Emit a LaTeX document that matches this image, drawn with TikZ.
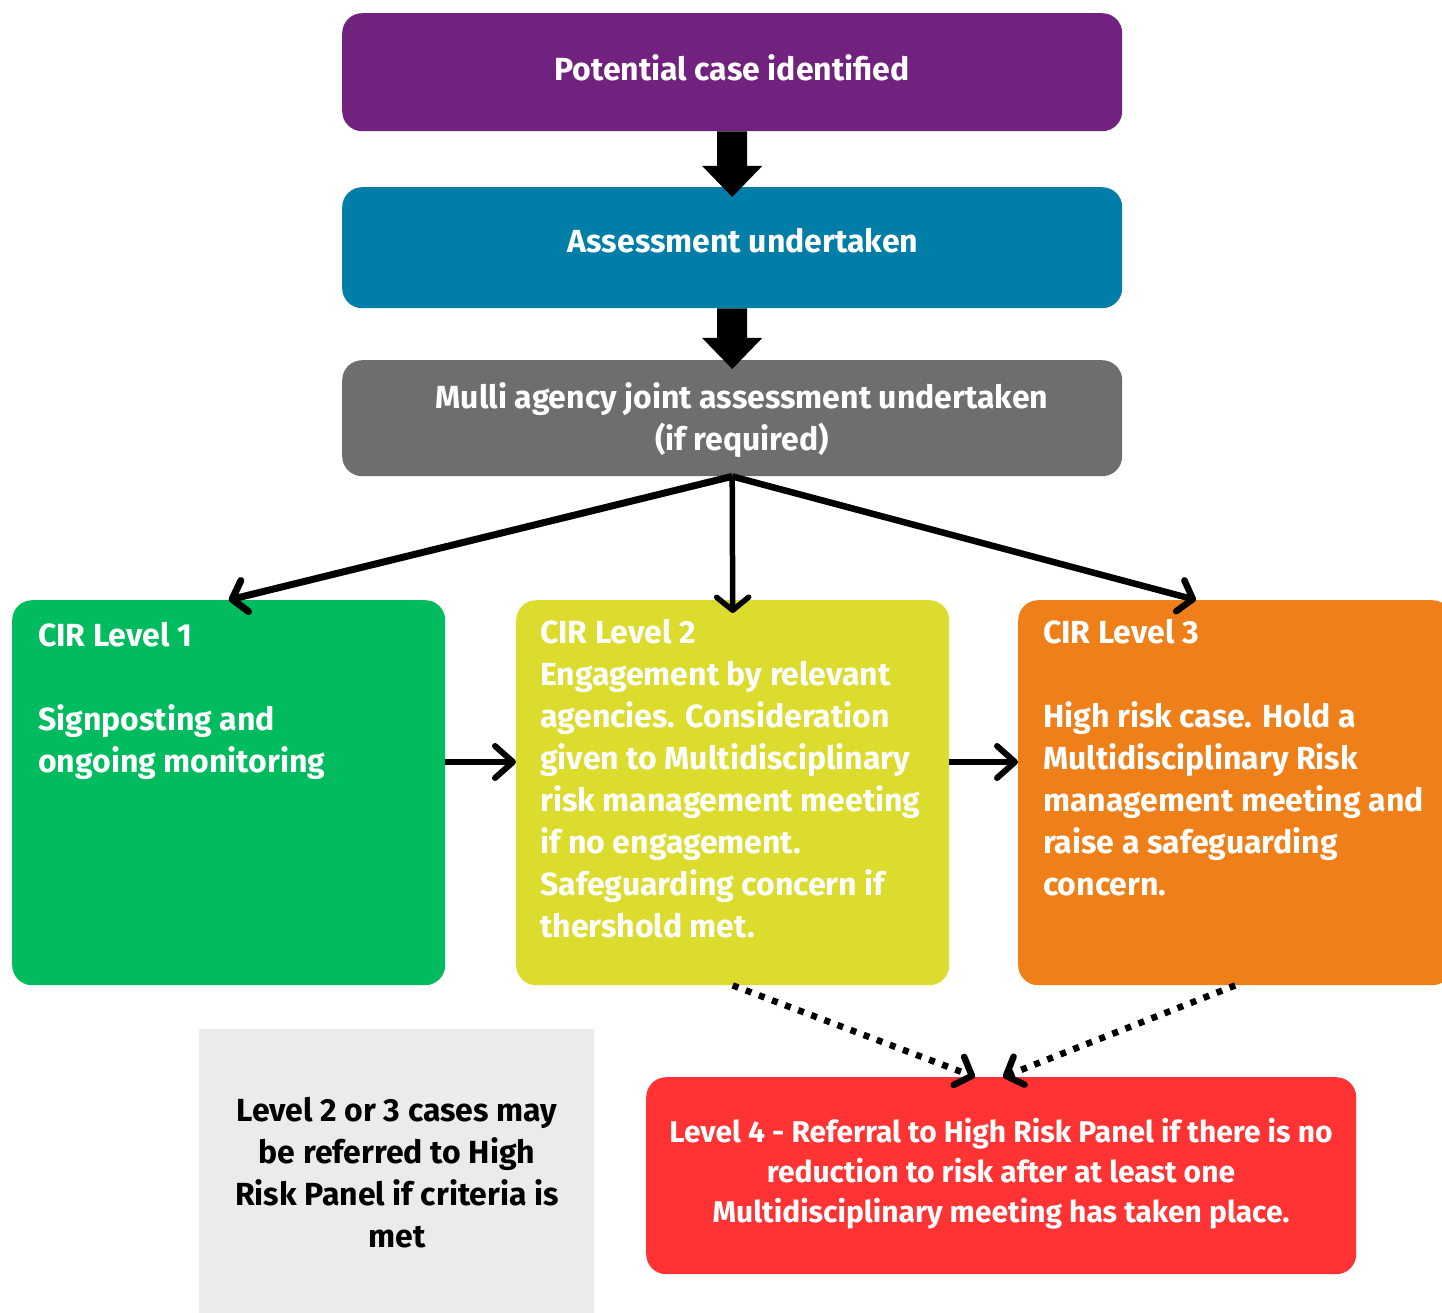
\documentclass[tikz,border=0pt]{standalone}
\usepackage{fontspec}
\setmainfont{Fira Sans}
\usetikzlibrary{arrows.meta,calc}
\definecolor{cpurple}{HTML}{71217E}
\definecolor{cteal}{HTML}{007EA7}
\definecolor{cgrey}{HTML}{706D6E}
\definecolor{cgreen}{HTML}{00BC5F}
\definecolor{cyellow}{HTML}{DCDC2F}
\definecolor{corange}{HTML}{EF8019}
\definecolor{cred}{HTML}{FF3333}
\definecolor{cnote}{HTML}{EBEBEB}
\begin{document}
\begin{tikzpicture}[x=1pt,y=-1pt,
  box/.style={rounded corners=20pt, inner sep=0pt, anchor=north west, draw=none},
  bigtxt/.style={inner sep=0pt, text=white, font=\fontsize{32}{42}\selectfont\bfseries},
  notetxt/.style={inner sep=0pt, text=black, align=center, anchor=north, font=\fontsize{32}{42}\selectfont\bfseries},
  redtxt/.style={inner sep=0pt, text=white, align=center, anchor=north, font=\fontsize{30}{40}\selectfont\bfseries},
  fanarrow/.style={line width=#1, -{Straight Barb[round, length=13pt, width=32pt]}},
  sidearrow/.style={line width=6pt, -{Straight Barb[round, length=18pt, width=32pt]}},
  dotarrow/.style={line width=6.5pt, dash pattern=on 6pt off 8pt, -{Straight Barb[round, length=14pt, width=30pt]}}]
\useasboundingbox[fill=white] (0,0) rectangle (1442,1313);

% boxes
\node[box, fill=cpurple, minimum width=780pt, minimum height=118pt] (purple) at (342,13) {};
\node[box, fill=cteal, minimum width=780pt, minimum height=121pt] (teal) at (342,187) {};
\node[box, fill=cgrey, minimum width=780pt, minimum height=116pt] (grey) at (342,360) {};
\node[box, fill=cgreen, minimum width=433pt, minimum height=385pt] (green) at (12,600) {};
\node[box, fill=cyellow, minimum width=433pt, minimum height=385pt] (yellow) at (516,600) {};
\node[box, fill=corange, minimum width=434pt, minimum height=385pt] (orange) at (1018,600) {};
\node[box, rounded corners=0pt, fill=cnote, minimum width=395pt, minimum height=290pt] (note) at (199,1029) {};
\node[box, fill=cred, minimum width=710pt, minimum height=197pt] (red) at (646,1077) {};

% texts
\node[bigtxt, anchor=base] (purpletxt) at (732,81) {Potential case identified};
\node[bigtxt, anchor=base] (tealtxt) at (743,253) {Assessment undertaken};
\node[bigtxt, align=center, anchor=north] (greytxt) at (742,378.6)
  {\strut Mulli agency joint assessment undertaken\\(if required)};
\node[bigtxt, align=left, anchor=north west] (greentxt) at (38,616.6)
  {\strut CIR Level 1\\[42pt]Signposting and\\ongoing monitoring};
\node[bigtxt, align=left, anchor=north west] (yellowtxt) at (540,613.6)
  {\strut CIR Level 2\\Engagement by relevant\\agencies. Consideration\\given to Multidisciplinary\\risk management meeting\\if no engagement.\\Safeguarding concern if\\thershold met.};
\node[bigtxt, align=left, anchor=north west] (orangetxt) at (1043,613.6)
  {\strut CIR Level 3\\[42pt]High risk case. Hold a\\Multidisciplinary Risk\\management meeting and\\raise a safeguarding\\concern.};
\node[notetxt] (notetxt) at (397,1091.6)
  {\strut Level 2 or 3 cases may\\be referred to High\\Risk Panel if criteria is\\met};
\node[redtxt] (redtxt) at (1001,1114)
  {\strut Level 4 - Referral to High Risk Panel if there is no\\reduction to risk after at least one\\Multidisciplinary meeting has taken place.};

% block arrows between the top boxes
\fill[black] ($(purple.south)+(-15,0)$) -- ($(purple.south)+(15,0)$) -- ($(teal.north)+(15,-21)$)
  -- ($(teal.north)+(30,-21)$) -- ($(teal.north)+(0,10)$) -- ($(teal.north)+(-30,-21)$)
  -- ($(teal.north)+(-15,-21)$) -- cycle;
\fill[black] ($(teal.south)+(-15,0)$) -- ($(teal.south)+(15,0)$) -- ($(grey.north)+(15,-22)$)
  -- ($(grey.north)+(30,-22)$) -- ($(grey.north)+(0,9)$) -- ($(grey.north)+(-30,-22)$)
  -- ($(grey.north)+(-15,-22)$) -- cycle;

% fan out to the three levels
\coordinate (t3) at (1196,600);
\draw[fanarrow=7pt] (grey.south) -- (green.north);
\draw[fanarrow=5.5pt] (grey.south) -- ($(yellow.north)+(0,13)$);
\draw[fanarrow=6.5pt] (grey.south) -- (t3);

% escalation between levels
\coordinate (row) at (0,762);
\draw[sidearrow] (green.east |- row) -- (yellow.west |- row);
\draw[sidearrow] (yellow.east |- row) -- (orange.west |- row);

% dotted referrals to level 4
\coordinate (r2) at (975,1077);
\coordinate (r3) at (1003,1077);
\draw[dotarrow] (yellow.south) -- (r2);
\draw[dotarrow] (orange.south) -- (r3);
\end{tikzpicture}
\end{document}
